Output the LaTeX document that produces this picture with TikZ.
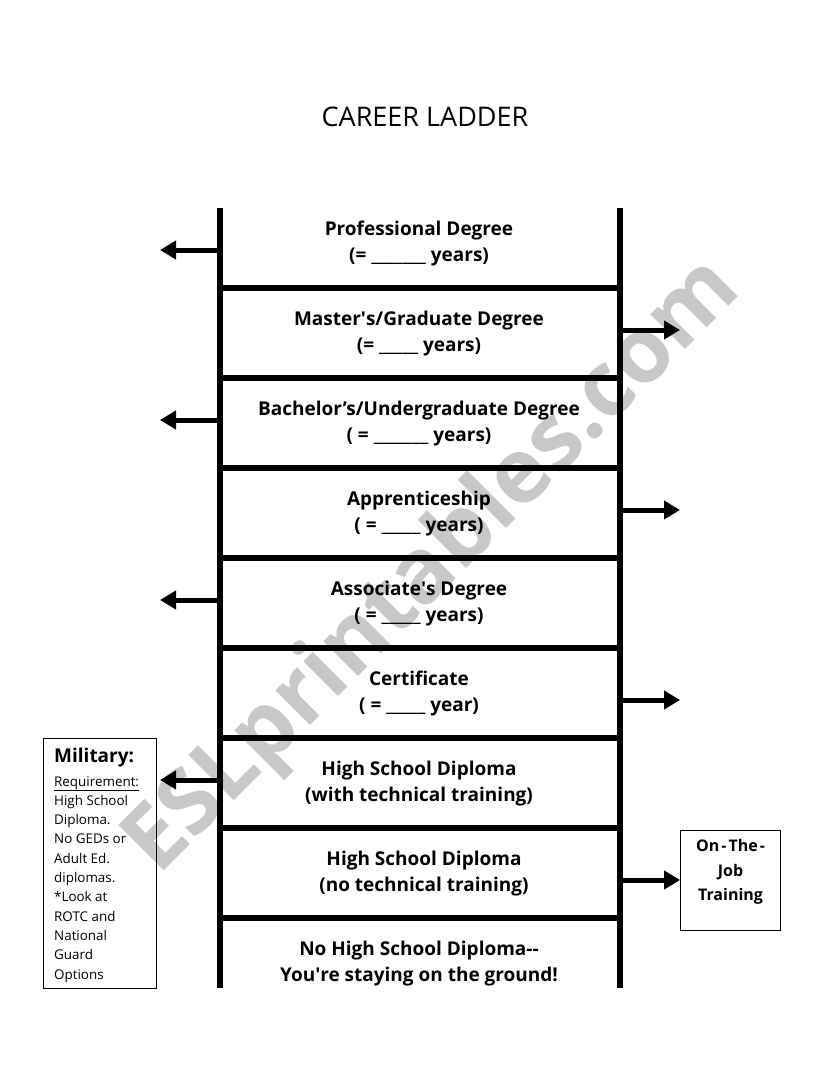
\documentclass[tikz,border=0pt]{standalone}
\usepackage{fontspec}
\setmainfont{Open Sans}
\usetikzlibrary{arrows.meta}
\definecolor{markgray}{HTML}{C8C8C8}
\tikzset{
    rail/.style={black, line width=6pt},
    rung/.style={black, line width=6pt},
    sidearrow/.style={black, line width=5pt, -{Triangle[length=16pt,width=18pt]}},
    rowlabel/.style={align=center, font=\fontsize{19}{26}\selectfont\bfseries},
    sidebox/.style={draw=black, line width=0.8pt, inner sep=0pt}
}
\begin{document}
\begin{tikzpicture}[x=1pt, y=-1pt]
        \useasboundingbox (0,0) rectangle (838,1086);
        \fill[white] (0,0) rectangle (838,1086);

        \node[markgray, rotate=45, font=\fontsize{90}{90}\selectfont\bfseries] (watermark) at (434,568) {ESLprintables.com};

        \node[font=\fontsize{27}{30}\selectfont] (title) at (425,117) {CAREER LADDER};

        \draw[rail] (220,208) -- (220,988);
        \draw[rail] (620,208) -- (620,988);

        \draw[rung] (220,288) -- (620,288);
        \draw[rung] (220,378) -- (620,378);
        \draw[rung] (220,468) -- (620,468);
        \draw[rung] (220,558) -- (620,558);
        \draw[rung] (220,648) -- (620,648);
        \draw[rung] (220,738) -- (620,738);
        \draw[rung] (220,828) -- (620,828);
        \draw[rung] (220,918) -- (620,918);

        \node[rowlabel] (professional) at (419,243.5) {Professional Degree\\(= \_\_\_\_\_\_\_ years)};
        \node[rowlabel] (masters) at (419,333.5) {Master\textquotesingle s/Graduate Degree\\(= \_\_\_\_\_ years)};
        \node[rowlabel] (bachelors) at (419,423.5) {Bachelor's/Undergraduate Degree\\( = \_\_\_\_\_\_\_ years)};
        \node[rowlabel] (apprentice) at (419,513.5) {Apprenticeship\\( = \_\_\_\_\_ years)};
        \node[rowlabel] (associates) at (419,603.5) {Associate\textquotesingle s Degree\\( = \_\_\_\_\_ years)};
        \node[rowlabel] (certificate) at (419,693.5) {Certificate\\( = \_\_\_\_\_ year)};
        \node[rowlabel] (hstech) at (419,783.5) {High School Diploma\\(with technical training)};
        \node[rowlabel] (hsnotech) at (424,873.5) {High School Diploma\\(no technical training)};
        \node[rowlabel] (nodiploma) at (419,963.5) {No High School Diploma-{}-\\You\textquotesingle re staying on the ground!};

        \node[sidebox, minimum width=113pt, minimum height=250pt] (military) at (100,863) {};
        \node[anchor=north west, align=left, inner sep=0pt, font=\fontsize{13.4}{19.3}\selectfont] (miltext) at (54,776) {\underline{Requirement:}\\High School\\Diploma.\\No GEDs or\\Adult Ed.\\diplomas.\\*Look at\\ROTC and\\National\\Guard\\Options};
        \node[anchor=west, inner sep=0pt, font=\fontsize{19}{22}\selectfont\bfseries] (miltitle) at (54,758) {Military:};

        \node[sidebox, minimum width=100pt, minimum height=100pt] (ojt) at (730.5,880) {};
        \node[align=center, inner sep=0pt, font=\fontsize{16}{24.5}\selectfont\bfseries] (ojttext) at (730.5,872) {On\kern2pt-\kern2pt The\kern2pt-\\Job\\Training};

        \coordinate (profrail) at (217,250);
        \coordinate (proftip) at (160,250);
        \coordinate (mastrail) at (623,330);
        \coordinate (masttip) at (680,330);
        \coordinate (bachrail) at (217,420);
        \coordinate (bachtip) at (160,420);
        \coordinate (apprail) at (623,510);
        \coordinate (apptip) at (680,510);
        \coordinate (assocrail) at (217,600);
        \coordinate (assoctip) at (160,600);
        \coordinate (certrail) at (623,700);
        \coordinate (certtip) at (680,700);
        \coordinate (hstechrail) at (217,780);
        \coordinate (hstechtip) at (160,780);
        \coordinate (hsrail) at (623,880);

        \draw[sidearrow] (profrail) -- (proftip);
        \draw[sidearrow] (mastrail) -- (masttip);
        \draw[sidearrow] (bachrail) -- (bachtip);
        \draw[sidearrow] (apprail) -- (apptip);
        \draw[sidearrow] (assocrail) -- (assoctip);
        \draw[sidearrow] (certrail) -- (certtip);
        \draw[sidearrow] (hstechrail) -- (hstechtip);
        \draw[sidearrow] (hsrail) -- (ojt.west);
\end{tikzpicture}
\end{document}
